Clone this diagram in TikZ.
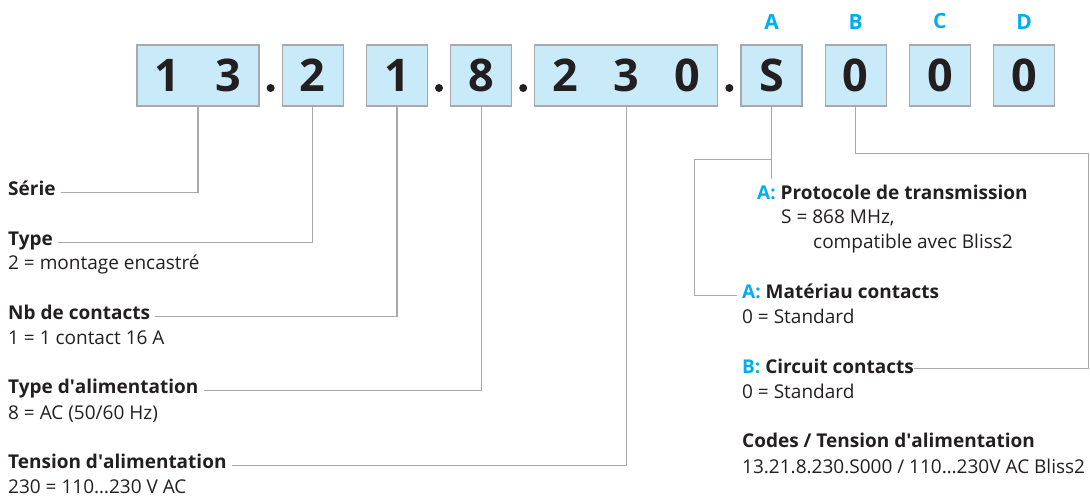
\documentclass[tikz,border=0pt]{standalone}
\usepackage{fontspec}
\setmainfont{Open Sans}
\usetikzlibrary{positioning,calc}
\definecolor{boxblue}{HTML}{C8EAF9}
\definecolor{linegray}{HTML}{A7A9AC}
\definecolor{bliss}{HTML}{00AEEF}
\definecolor{ink}{HTML}{231F20}
\newcommand{\cell}[1]{\makebox[61pt]{#1}}
\newcommand{\apos}{\textquotesingle}
\tikzset{
	digbox/.style={draw=linegray, line width=1.2pt, fill=boxblue, minimum height=61pt,
		minimum width=61pt, inner sep=0pt, font=\fontsize{45}{45}\selectfont\bfseries, text=ink},
	sepdot/.style={circle, fill=ink, inner sep=0pt, minimum size=8pt},
	letter/.style={font=\fontsize{21}{21}\selectfont\bfseries, text=bliss, inner sep=0pt},
	title/.style={font=\fontsize{19}{22}\selectfont\bfseries, text=ink, inner xsep=5pt,
		inner ysep=5pt, anchor=base west},
	valtxt/.style={font=\fontsize{19}{22}\selectfont, text=ink, inner xsep=5pt, anchor=base west},
	conn/.style={draw=linegray, line width=1.2pt},
}

\begin{document}
\begin{tikzpicture}[x=1pt, y=-1pt]
	\useasboundingbox (0,0) rectangle (1090,496);
	% code boxes
	\node[digbox, minimum width=122pt] (b13) at (198,75.5) {\cell{1}\cell{3}};
	\node[digbox, right=22pt of b13] (b2) {2};
	\node[digbox, right=22pt of b2] (b1) {1};
	\node[digbox, right=22pt of b1] (b8) {8};
	\node[digbox, minimum width=183pt, right=22pt of b8] (b230) {\cell{2}\cell{3}\cell{0}};
	\node[digbox, right=22pt of b230] (bS) {S};
	\node[digbox, right=22pt of bS] (bB) {0};
	\node[digbox, right=22pt of bB] (bC) {0};
	\node[digbox, right=22pt of bC] (bD) {0};
	\node[sepdot] (p1) at ($(b13.east)!0.5!(b2.west)+(0,12.5)$) {};
	\node[sepdot] (p2) at ($(b1.east)!0.5!(b8.west)+(0,12.5)$) {};
	\node[sepdot] (p3) at ($(b8.east)!0.5!(b230.west)+(0,12.5)$) {};
	\node[sepdot] (p4) at ($(b230.east)!0.5!(bS.west)+(0,12.5)$) {};
	\node[letter, above=15pt of bS] (lA) {A};
	\node[letter, above=15pt of bB] (lB) {B};
	\node[letter, above=15pt of bC] (lC) {C};
	\node[letter, above=15pt of bD] (lD) {D};

	% left legend
	\node[title] (serie) at (3,195) {Série};
	\node[title] (type) at (3,245) {Type};
	\node[valtxt] (typeval) at (3,269) {2 = montage encastré};
	\node[title] (nbc) at (3,319) {Nb de contacts};
	\node[valtxt] (nbcval) at (3,344) {1 = 1 contact 16 A};
	\node[title] (alim) at (3,393) {Type d\apos alimentation};
	\node[valtxt] (alimval) at (3,419) {8 = AC (50/60 Hz)};
	\node[title] (tens) at (3,468) {Tension d\apos alimentation};
	\node[valtxt] (tensval) at (3,493) {230 = 110…230 V AC};
	\draw[conn] (b13.south) |- (serie.mid east);
	\draw[conn] (b2.south) |- (type.mid east);
	\draw[conn] (b1.south) |- (nbc.mid east);
	\draw[conn] (b8.south) |- (alim.mid east);
	\draw[conn] (b230.south) |- (tens.mid east);

	% right legend
	\node[title] (prot) at (752,199) {\textcolor{bliss}{A:} Protocole de transmission};
	\node[valtxt] (protval) at (776,223) {S = 868 MHz,};
	\node[valtxt] (protval2) at (808,248) {compatible avec Bliss2};
	\node[title] (mat) at (737,298) {\textcolor{bliss}{A:} Matériau contacts};
	\node[valtxt] (matval) at (737,323) {0 = Standard};
	\node[title] (circ) at (737,373) {\textcolor{bliss}{B:} Circuit contacts};
	\node[valtxt] (circval) at (737,398) {0 = Standard};
	\node[title] (codes) at (737,447) {Codes / Tension d\apos alimentation};
	\node[valtxt] (codesval) at (737,473) {13.21.8.230.S000 / 110…230V AC Bliss2};
	\draw[conn] (bS.south) -- (bS.south |- prot.north);
	\draw[conn] (bS.south) ++(0,53) -- ++(-77,0) |- (mat.mid west);
	\draw[conn] (bB.south) |- ++(233,47) |- ([xshift=-5pt, yshift=2pt]circ.mid east);
\end{tikzpicture}
\end{document}
